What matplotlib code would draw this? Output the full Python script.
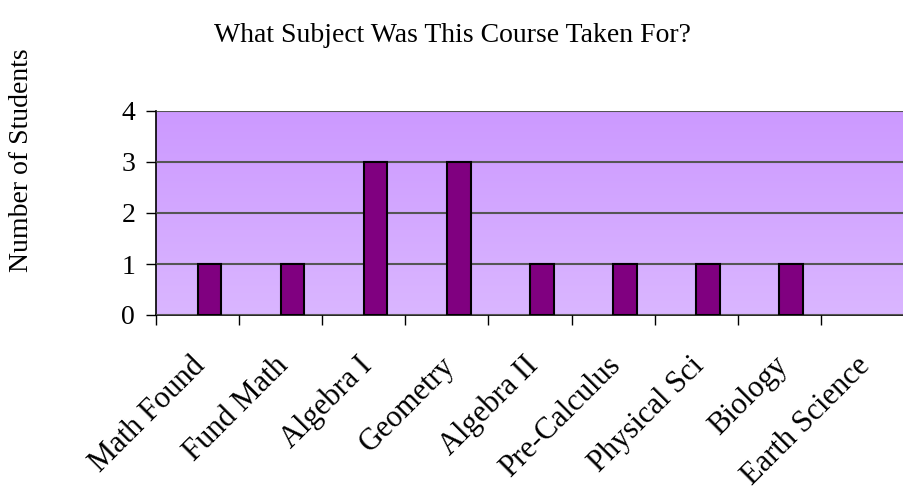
import numpy as np
import matplotlib
matplotlib.use("Agg")
import matplotlib.pyplot as plt
from matplotlib.colors import LinearSegmentedColormap

# data
subjects = ["Math Found", "Fund Math", "Algebra I", "Geometry", "Algebra II",
            "Pre-Calculus", "Physical Sci", "Biology", "Earth Science"]
students = [1, 1, 3, 3, 1, 1, 1, 1, 0]
y_ticks = [0, 1, 2, 3, 4]

plt.rcParams['font.family'] = ['Liberation Serif', 'DejaVu Serif']

fig = plt.figure(figsize=(9.04, 4.91), dpi=100)
ax = fig.add_axes([156 / 904, 1 - 315 / 491, 1 - 156 / 904, (315 - 111) / 491])

# gradient background, darker at the top
grad = LinearSegmentedColormap.from_list("bg", ["#dab6ff", "#cc99ff"])
ax.imshow(np.linspace(0, 1, 256).reshape(-1, 1), cmap=grad, origin='lower',
          extent=[0, 1, 0, 1], transform=ax.transAxes, aspect='auto', zorder=0)

x = np.arange(len(subjects))
lw = [1.5 if v else 0 for v in students]
ax.bar(x, students, width=0.285, align='edge', color='#800080',
       edgecolor='black', linewidth=lw, zorder=3)

ax.set_xlim(-0.5, -0.5 + 748 / 84.4)
ax.set_ylim(0, 4)
ax.set_yticks(y_ticks)
ax.set_yticklabels([str(v) for v in y_ticks], fontsize=20)
ax.yaxis.grid(True, color='#555555', linewidth=1.5, zorder=1)
ax.set_axisbelow(False)

# category boundaries carry the tick marks, labels sit on minor ticks
ax.set_xticks(np.arange(-0.5, len(subjects), 1.0))
ax.set_xticklabels([])
ax.set_xticks(x - 0.08, minor=True)
ax.set_xticklabels(subjects, minor=True, rotation=45, ha='right', va='top',
                   rotation_mode='anchor', fontsize=22)
ax.tick_params(axis='x', which='minor', length=0, pad=26)
ax.tick_params(axis='both', which='major', length=7, width=1, direction='out')
ax.tick_params(axis='y', pad=8)

for s in ['top', 'right']:
    ax.spines[s].set_visible(False)
ax.spines['left'].set_linewidth(1.2)
ax.spines['bottom'].set_linewidth(1.2)

fig.text(0.5, 1 - 36 / 491, "What Subject Was This Course Taken For?",
         ha='center', va='center', fontsize=20)
fig.text(22 / 904, 1 - 160 / 491, "Number of Students", rotation=90,
         ha='center', va='center', fontsize=20)

fig.savefig("out.png", dpi=100)
